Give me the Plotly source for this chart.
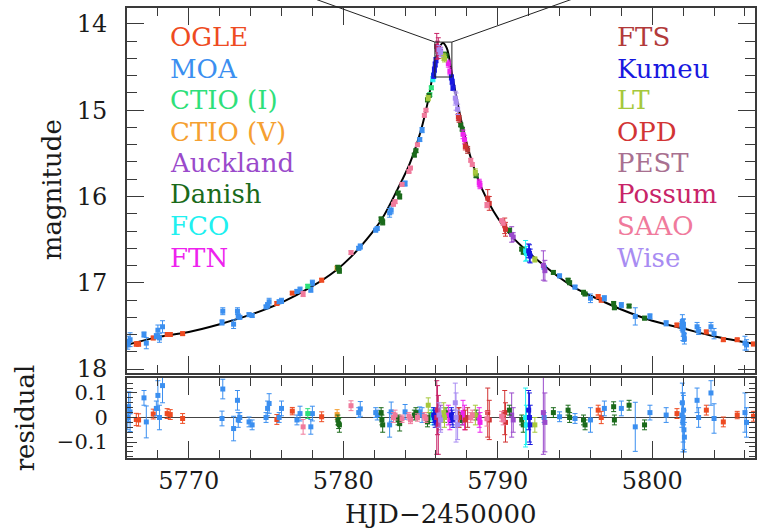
import plotly.graph_objects as go

# ---------------- model curve ----------------
model_t = [5766.0, 5768.0, 5770.0, 5772.0, 5774.0, 5776.0, 5778.0, 5779.5, 5780.5, 5781.5,
           5782.5, 5783.5, 5784.3, 5785.0, 5785.5, 5785.9, 5786.2, 5786.45, 5786.7, 5787.0,
           5787.4, 5787.8, 5788.3, 5789.0, 5790.0, 5791.0, 5792.0, 5793.0, 5794.0, 5795.0,
           5796.5, 5798.0, 5800.0, 5802.0, 5804.0, 5806.65]
model_mag = [17.72, 17.63, 17.57, 17.48, 17.37, 17.23, 17.04, 16.86, 16.70, 16.50,
             16.26, 15.92, 15.62, 15.25, 14.88, 14.48, 14.28, 14.22, 14.28, 14.55,
             14.92, 15.25, 15.58, 15.92, 16.25, 16.48, 16.65, 16.80, 16.94, 17.06,
             17.19, 17.31, 17.44, 17.53, 17.62, 17.71]

# ---------------- observatories ----------------
OGLE_t = [5766.6, 5766.75, 5767.7, 5768.6, 5768.8, 5769.6, 5775.7, 5776.7, 5778.6, 5796.5, 5796.7, 5801.6, 5803.5, 5804.6, 5805.5, 5806.55]
OGLE_mag = [17.71, 17.71, 17.64, 17.60, 17.60, 17.59, 17.24, 17.12, 16.97, 17.16, 17.20, 17.49, 17.57, 17.66, 17.66, 17.71]
OGLE_res = [-0.008, -0.010, 0.014, 0.016, 0.012, -0.004, -0.008, 0.026, 0.003, 0.030, 0.000, 0.016, 0.030, -0.018, 0.010, 0.005]
OGLE_err = [0.025, 0.025, 0.02, 0.02, 0.02, 0.02, 0.02, 0.015, 0.02, 0.02, 0.025, 0.02, 0.02, 0.02, 0.015, 0.02]

MOA_t = [5766.05, 5766.1, 5766.2, 5767.1, 5767.25, 5767.9, 5768.0, 5768.1, 5768.3, 5772.2, 5772.15, 5772.9, 5773.15, 5773.2, 5773.3,
         5773.9, 5774.1, 5775.0, 5775.1, 5775.2, 5775.85, 5776.0, 5777.0, 5777.2, 5777.9, 5778.0, 5781.0, 5781.1, 5782.1, 5782.2,
         5783.0, 5783.1, 5784.0, 5784.95, 5785.1, 5793.0, 5794.0, 5795.0, 5796.0, 5796.9, 5798.0, 5798.9, 5799.85, 5800.9, 5801.92,
         5801.95, 5801.98, 5802.0, 5802.02, 5802.05, 5802.08, 5802.9, 5803.0, 5803.8, 5804.0, 5806.0, 5806.1]
MOA_mag = [17.72, 17.68, 17.66, 17.60, 17.70, 17.62, 17.55, 17.64, 17.51, 17.33, 17.46, 17.48, 17.33, 17.39, 17.40,
           17.37, 17.38, 17.28, 17.26, 17.22, 17.22, 17.21, 17.10, 17.08, 17.08, 17.00, 16.60, 16.58, 16.39, 16.37,
           16.19, 16.16, 15.85, 15.34, 15.23, 16.82, 16.92, 17.05, 17.18, 17.18, 17.26, 17.39, 17.39, 17.47, 17.50,
           17.45, 17.55, 17.52, 17.48, 17.60, 17.65, 17.51, 17.56, 17.51, 17.59, 17.70, 17.72]
MOA_res = [0.0, 0.044, 0.023, 0.08, -0.018, 0.037, 0.09, 0.0, 0.13, 0.116, -0.004, -0.045, 0.07, -0.01, 0.0,
           -0.018, -0.03, 0.0, 0.037, 0.057, 0.0, 0.037, -0.01, 0.016, -0.038, 0.016, 0.02, 0.035, 0.02, 0.01,
           -0.03, 0.023, 0.023, 0.023, 0.01, 0.0, 0.003, -0.004, -0.01, 0.037, 0.037, -0.038, 0.02, 0.01, 0.01,
           0.06, -0.02, 0.0, 0.03, -0.05, -0.08, 0.07, 0.0, 0.1, -0.004, 0.02, -0.02]
MOA_err = [0.05, 0.06, 0.08, 0.03, 0.065, 0.03, 0.06, 0.05, 0.07, 0.04, 0.03, 0.05, 0.04, 0.03, 0.02,
           0.02, 0.02, 0.02, 0.03, 0.04, 0.02, 0.03, 0.02, 0.03, 0.03, 0.03, 0.02, 0.03, 0.02, 0.02,
           0.05, 0.04, 0.03, 0.02, 0.03, 0.02, 0.02, 0.02, 0.05, 0.03, 0.03, 0.1, 0.03, 0.03, 0.05,
           0.08, 0.12, 0.1, 0.06, 0.08, 0.06, 0.05, 0.04, 0.05, 0.06, 0.08, 0.06]

CTIOI_t = [5777.7, 5785.6, 5785.7]
CTIOI_mag = [17.04, 14.82, 14.74]
CTIOI_res = [0.016, 0.0, 0.01]
CTIOI_err = [0.02, 0.02, 0.02]

CTIOV_t = [5779.6]
CTIOV_mag = [16.83]
CTIOV_res = [0.012]
CTIOV_err = [0.02]

Auckland_t = [5786.3, 5790.9, 5791.0, 5792.95, 5793.05]
Auckland_mag = [14.32, 16.44, 16.47, 16.80, 16.86]
Auckland_res = [0.0, 0.01, -0.01, 0.02, -0.02]
Auckland_err = [0.05, 0.09, 0.05, 0.17, 0.12]

Danish_t = [5779.65, 5779.7, 5779.75, 5782.45, 5782.5, 5782.55, 5783.55, 5783.65, 5784.6, 5784.7,
            5785.45, 5785.55, 5786.55, 5786.65, 5787.6, 5787.7, 5788.6, 5790.75, 5791.55, 5791.65,
            5793.6, 5794.55, 5794.65, 5795.55, 5795.65, 5797.5, 5797.55, 5798.5, 5799.5]
Danish_mag = [16.82, 16.84, 16.86, 16.26, 16.28, 16.30, 15.96, 16.00, 15.52, 15.47,
              14.88, 14.83, 14.35, 14.37, 15.17, 15.22, 15.76, 16.39, 16.61, 16.64,
              16.88, 16.97, 17.00, 17.11, 17.13, 17.24, 17.29, 17.27, 17.41]
Danish_res = [-0.01, -0.025, -0.03, 0.02, -0.01, -0.03, -0.01, -0.025, 0.01, 0.02,
              -0.018, 0.0, 0.0, 0.02, 0.0, -0.01, 0.01, 0.03, -0.01, -0.03,
              0.02, 0.03, 0.0, -0.01, -0.03, 0.044, -0.01, 0.05, -0.03]
Danish_err = [0.02, 0.02, 0.03, 0.02, 0.02, 0.03, 0.02, 0.03, 0.02, 0.02,
              0.02, 0.02, 0.02, 0.02, 0.02, 0.02, 0.02, 0.02, 0.02, 0.03,
              0.02, 0.02, 0.02, 0.02, 0.02, 0.02, 0.02, 0.02, 0.02]

FCO_t = [5785.8, 5785.85, 5791.8, 5791.85]
FCO_mag = [14.64, 14.60, 16.63, 16.66]
FCO_res = [0.0, 0.01, 0.0, -0.03]
FCO_err = [0.03, 0.03, 0.12, 0.08]

FTN_t = [5786.8, 5786.9, 5787.75, 5787.85, 5788.8, 5788.85]
FTN_mag = [14.46, 14.55, 15.28, 15.34, 15.84, 15.87]
FTN_res = [0.01, -0.01, 0.02, 0.0, 0.0, -0.02]
FTN_err = [0.04, 0.04, 0.05, 0.05, 0.04, 0.04]

FTS_t = [5787.5, 5788.05]
FTS_mag = [15.10, 15.46]
FTS_res = [0.0, 0.0]
FTS_err = [0.04, 0.04]

Kumeu_t = [5785.85, 5785.9, 5785.95, 5786.0, 5787.0, 5787.05, 5787.1, 5792.0, 5792.05, 5792.1]
Kumeu_mag = [14.60, 14.53, 14.47, 14.42, 14.62, 14.67, 14.74, 16.63, 16.66, 16.69]
Kumeu_res = [0.01, 0.0, -0.01, 0.005, 0.01, 0.0, -0.01, 0.03, 0.0, -0.03]
Kumeu_err = [0.03, 0.03, 0.03, 0.03, 0.03, 0.03, 0.03, 0.08, 0.1, 0.08]

LT_t = [5785.5, 5786.5, 5786.55, 5788.55, 5792.4]
LT_mag = [14.86, 14.38, 14.40, 15.72, 16.73]
LT_res = [0.05, 0.02, 0.0, 0.01, -0.03]
LT_err = [0.03, 0.04, 0.04, 0.04, 0.03]

OPD_t = [5787.45, 5787.9, 5789.35, 5789.45, 5790.45, 5790.5]
OPD_mag = [15.08, 15.42, 16.02, 16.08, 16.34, 16.38]
OPD_res = [0.0, -0.01, 0.02, -0.01, 0.02, -0.02]
OPD_err = [0.04, 0.04, 0.1, 0.08, 0.09, 0.08]

PEST_t = [5786.1]
PEST_mag = [14.30]
PEST_res = [0.0]
PEST_err = [0.04]

Possum_t = [5786.05, 5786.1, 5786.15]
Possum_mag = [14.26, 14.30, 14.28]
Possum_res = [0.0, 0.03, -0.03]
Possum_err = [0.15, 0.1, 0.12]

SAAO_t = [5777.4, 5780.5, 5783.25, 5783.35, 5783.8, 5784.25, 5784.35, 5784.8, 5785.25, 5785.35, 5788.25, 5788.35, 5789.3, 5790.25, 5790.35]
SAAO_mag = [17.13, 16.65, 16.09, 16.06, 15.86, 15.71, 15.67, 15.40, 15.06, 15.00, 15.58, 15.63, 16.10, 16.28, 16.31]
SAAO_res = [-0.038, 0.048, 0.0, 0.01, -0.005, 0.005, -0.01, 0.0, 0.005, -0.005, 0.0, 0.01, -0.005, 0.005, -0.01]
SAAO_err = [0.03, 0.02, 0.02, 0.02, 0.015, 0.015, 0.015, 0.015, 0.015, 0.015, 0.02, 0.02, 0.03, 0.02, 0.02]

Wise_t = [5786.2, 5786.3, 5787.25, 5787.3, 5787.4]
Wise_mag = [14.30, 14.33, 14.86, 14.90, 14.99]
Wise_res = [0.01, -0.01, 0.06, 0.0, -0.03]
Wise_err = [0.05, 0.05, 0.08, 0.1, 0.06]

names_left = ["OGLE", "MOA", "CTIO (I)", "CTIO (V)", "Auckland", "Danish", "FCO", "FTN"]
names_right = ["FTS", "Kumeu", "LT", "OPD", "PEST", "Possum", "SAAO", "Wise"]
colors = {
    "OGLE": "#ee4b22", "MOA": "#3b8ff0", "CTIO (I)": "#2ee07a", "CTIO (V)": "#f5a030",
    "Auckland": "#9a4acb", "Danish": "#1a6a1a", "FCO": "#20f0f0", "FTN": "#ee22ee",
    "FTS": "#b23a3a", "Kumeu": "#1818e0", "LT": "#a6c83c", "OPD": "#d23434",
    "PEST": "#a87090", "Possum": "#c82468", "SAAO": "#f07a9c", "Wise": "#a88cf2",
}
datasets = [
    ("OGLE", OGLE_t, OGLE_mag, OGLE_res, OGLE_err),
    ("MOA", MOA_t, MOA_mag, MOA_res, MOA_err),
    ("CTIO (I)", CTIOI_t, CTIOI_mag, CTIOI_res, CTIOI_err),
    ("CTIO (V)", CTIOV_t, CTIOV_mag, CTIOV_res, CTIOV_err),
    ("Auckland", Auckland_t, Auckland_mag, Auckland_res, Auckland_err),
    ("Danish", Danish_t, Danish_mag, Danish_res, Danish_err),
    ("FCO", FCO_t, FCO_mag, FCO_res, FCO_err),
    ("FTN", FTN_t, FTN_mag, FTN_res, FTN_err),
    ("FTS", FTS_t, FTS_mag, FTS_res, FTS_err),
    ("Kumeu", Kumeu_t, Kumeu_mag, Kumeu_res, Kumeu_err),
    ("LT", LT_t, LT_mag, LT_res, LT_err),
    ("OPD", OPD_t, OPD_mag, OPD_res, OPD_err),
    ("PEST", PEST_t, PEST_mag, PEST_res, PEST_err),
    ("Possum", Possum_t, Possum_mag, Possum_res, Possum_err),
    ("SAAO", SAAO_t, SAAO_mag, SAAO_res, SAAO_err),
    ("Wise", Wise_t, Wise_mag, Wise_res, Wise_err),
]

# inset box (data coords)
box_t = [5785.93, 5787.03]
box_mag = [14.21, 14.615]

FONT = "DejaVu Serif"
W, H = 757, 528
ML, MR, MT, MB = 127, 0, 8, 70
XR = [5766.0, 5806.65]
YR_MAIN = [18.046, 13.815]
YR_RES = [-0.165, 0.161]
DOM_MAIN = [0.1889, 1.0]
DOM_RES = [0.0, 0.1778]
AX = "#3a3a3a"

fig = go.Figure()

fig.add_trace(go.Scatter(x=model_t, y=model_mag, mode="lines", line=dict(color="black", width=2, shape="spline"),
                         xaxis="x", yaxis="y", showlegend=False, hoverinfo="skip"))

for name, t, mag, res, err in datasets:
    c = colors[name]
    fig.add_trace(go.Scatter(x=t, y=mag, mode="markers", xaxis="x", yaxis="y", showlegend=False,
                             marker=dict(symbol="square", size=5, color=c),
                             error_y=dict(type="data", array=err, color=c, thickness=1, width=2.5)))
    fig.add_trace(go.Scatter(x=t, y=res, mode="markers", xaxis="x2", yaxis="y2", showlegend=False,
                             marker=dict(symbol="square", size=5, color=c),
                             error_y=dict(type="data", array=err, color=c, thickness=1, width=2.5)))

common = dict(showline=True, linecolor=AX, linewidth=2, mirror="ticks", ticks="inside",
              tickcolor=AX, tickwidth=1.3, showgrid=False, zeroline=False)
tf_big = dict(family=FONT, size=24, color="#1a1a1a")
tf_res = dict(family=FONT, size=21, color="#1a1a1a")

fig.update_layout(
    width=W, height=H, margin=dict(l=ML, r=MR, t=MT, b=MB),
    paper_bgcolor="white", plot_bgcolor="white", showlegend=False,
    xaxis=dict(domain=[0, 1], range=XR, anchor="y", showticklabels=False, tick0=5770, dtick=10, ticklen=17,
               tickfont=tf_big,
               minor=dict(dtick=2, ticklen=8, ticks="inside", tickcolor=AX, tickwidth=1.3), **common),
    yaxis=dict(domain=DOM_MAIN, range=YR_MAIN, anchor="x", tick0=14, dtick=1, ticklen=17,
               ticklabelstandoff=13, tickfont=tf_big,
               minor=dict(dtick=0.2, ticklen=10, ticks="inside", tickcolor=AX, tickwidth=1.3), **common),
    xaxis2=dict(domain=[0, 1], range=XR, anchor="y2", matches="x", tick0=5770, dtick=10, ticklen=17,
                ticklabelstandoff=0, tickfont=tf_big,
                minor=dict(dtick=2, ticklen=8, ticks="inside", tickcolor=AX, tickwidth=1.3), **common),
    yaxis2=dict(domain=DOM_RES, range=YR_RES, anchor="x2", tick0=0, dtick=0.1, ticklen=10,
                ticklabelstandoff=13, tickfont=tf_res,
                minor=dict(dtick=0.02, ticklen=6, ticks="inside", tickcolor=AX, tickwidth=1.3), **common),
)

# residual zero line
fig.add_shape(type="line", xref="x2 domain", yref="y2", x0=0, x1=1, y0=0, y1=0,
              line=dict(color="#444444", width=1), layer="below")

# inset box around the peak
fig.add_shape(type="rect", xref="x", yref="y", x0=box_t[0], x1=box_t[1], y0=box_mag[0], y1=box_mag[1],
              line=dict(color="#222222", width=1))

# connecting lines towards an inset above the figure (paper coordinates)
def to_paper_x(v):
    return (v - XR[0]) / (XR[1] - XR[0])

def to_paper_y(v):
    frac = (YR_MAIN[0] - v) / (YR_MAIN[0] - YR_MAIN[1])
    return DOM_MAIN[0] + frac * (DOM_MAIN[1] - DOM_MAIN[0])

plot_w = W - ML - MR
plot_h = H - MT - MB
bx0, bx1, by = to_paper_x(box_t[0]), to_paper_x(box_t[1]), to_paper_y(box_mag[0])
rise = 1.0 - by + (MT + 15) / plot_h  # extend past the top edge of the figure
fig.add_shape(type="line", xref="paper", yref="paper", x0=bx0, y0=by,
              x1=bx0 - 2.79 * rise * plot_h / plot_w, y1=by + rise,
              line=dict(color="#222222", width=1))
fig.add_shape(type="line", xref="paper", yref="paper", x0=bx1, y0=by,
              x1=bx1 + 2.81 * rise * plot_h / plot_w, y1=by + rise,
              line=dict(color="#222222", width=1))

# observatory labels
row_y = [37, 68.5, 100, 131.5, 163, 194.5, 226, 257.5]
for i, n in enumerate(names_left):
    fig.add_annotation(text=n, xref="paper", yref="paper", x=(168 - ML) / plot_w, y=(H - MB - row_y[i]) / plot_h,
                       xanchor="left", yanchor="middle", showarrow=False,
                       font=dict(family=FONT, size=26, color=colors[n]))
for i, n in enumerate(names_right):
    fig.add_annotation(text=n, xref="paper", yref="paper", x=(617 - ML) / plot_w, y=(H - MB - row_y[i]) / plot_h,
                       xanchor="left", yanchor="middle", showarrow=False,
                       font=dict(family=FONT, size=26, color=colors[n]))

# axis titles
fig.add_annotation(text="magnitude", xref="paper", yref="paper", x=(52 - ML) / plot_w, y=(H - MB - 190) / plot_h,
                   textangle=-90, showarrow=False, xanchor="center", yanchor="middle",
                   font=dict(family=FONT, size=26, color="#1a1a1a"))
fig.add_annotation(text="residual", xref="paper", yref="paper", x=(25 - ML) / plot_w, y=(H - MB - 418) / plot_h,
                   textangle=-90, showarrow=False, xanchor="center", yanchor="middle",
                   font=dict(family=FONT, size=26, color="#1a1a1a"))
fig.add_annotation(text="HJD\u22122450000", xref="paper", yref="paper", x=(442 - ML) / plot_w, y=(H - MB - 514) / plot_h,
                   showarrow=False, xanchor="center", yanchor="middle",
                   font=dict(family=FONT, size=26, color="#1a1a1a"))

fig.write_html("out.html")
